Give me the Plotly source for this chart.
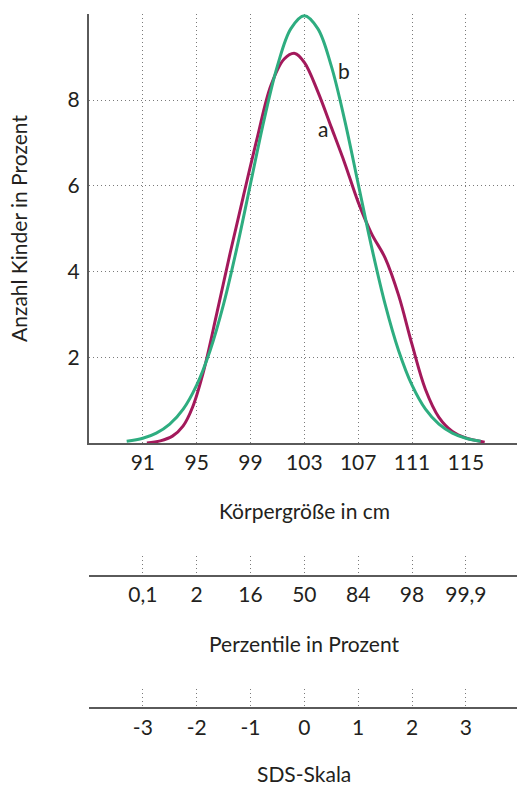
import plotly.graph_objects as go

# ---- data ----
height_ticks = [91, 95, 99, 103, 107, 111, 115]
height_labels = ["91", "95", "99", "103", "107", "111", "115"]
percentile_labels = ["0,1", "2", "16", "50", "84", "98", "99,9"]
sds_labels = ["-3", "-2", "-1", "0", "1", "2", "3"]
y_ticks = [2, 4, 6, 8, 10]
y_tick_labels = ["2", "4", "6", "8", ""]

# curve a (crimson)
a_x = [91.3, 92.3, 93.2, 94.0, 94.7, 95.5, 96.5, 97.5, 98.5, 99.5, 100.5, 101.5,
       102.3, 103.0, 104.0, 105.0, 106.0, 107.0, 108.0, 109.0, 110.0, 111.0,
       112.0, 113.0, 114.0, 115.0, 116.4]
a_y = [0.0, 0.05, 0.16, 0.4, 0.84, 1.66, 3.03, 4.45, 5.8, 7.12, 8.33, 8.96,
       9.09, 8.88, 8.2, 7.37, 6.53, 5.62, 4.88, 4.32, 3.45, 2.3,
       1.25, 0.6, 0.27, 0.12, 0.02]

# curve b (green)
b_x = [89.8, 91, 92, 93, 94, 95, 96, 97, 98, 99, 100, 101, 102, 103, 104, 105,
       106, 107, 108, 109, 110, 111, 112, 113, 114, 115, 116.1]
b_y = [0.04, 0.11, 0.23, 0.44, 0.79, 1.35, 2.16, 3.24, 4.57, 6.05, 7.53, 8.80,
       9.67, 9.97, 9.67, 8.80, 7.53, 6.05, 4.57, 3.24, 2.16, 1.35, 0.79, 0.44,
       0.23, 0.11, 0.04]

label_a = ("a", 104.37, 7.35)
label_b = ("b", 105.96, 8.70)

# ---- style ----
FONT = "Lato"
FS = 21
TXT = "#231F20"
CRIMSON = "#A3195B"
GREEN = "#2EAD80"
GRID = "#7a7a7a"
AXLINE = "#5a5a5a"
W, H = 517, 787
L, T = 89, 14
XR = [87.0, 118.8]

def py(pix):
    return (H - pix) / (H - T)

fig = go.Figure()
fig.add_trace(go.Scatter(x=a_x, y=a_y, mode="lines",
                         line=dict(color=CRIMSON, width=3, shape="spline", smoothing=1.0),
                         hoverinfo="skip", showlegend=False))
fig.add_trace(go.Scatter(x=b_x, y=b_y, mode="lines",
                         line=dict(color=GREEN, width=3, shape="spline", smoothing=1.0),
                         hoverinfo="skip", showlegend=False))
# empty traces so the secondary scale axes are drawn
for ax in ("2", "3"):
    fig.add_trace(go.Scatter(x=[None], y=[None], xaxis="x" + ax, yaxis="y" + ax,
                             mode="lines", hoverinfo="skip", showlegend=False))

common_x = dict(range=XR, showgrid=True, gridcolor=GRID, gridwidth=1,
                griddash="1px,3px", zeroline=False, showline=True,
                linecolor=AXLINE, linewidth=2, ticks="",
                tickfont=dict(family=FONT, size=FS, color=TXT),
                tickvals=height_ticks, ticklabelstandoff=0, fixedrange=True)

fig.update_layout(
    width=W, height=H,
    margin=dict(l=L, r=0, t=T, b=0, pad=0),
    paper_bgcolor="white", plot_bgcolor="white",
    showlegend=False,
    font=dict(family=FONT, size=FS, color=TXT),
    xaxis=dict(common_x, anchor="y", ticktext=height_labels),
    yaxis=dict(domain=[py(443), 1.0], range=[0, 10.01], tickvals=y_ticks,
               ticktext=y_tick_labels, showgrid=True, gridcolor=GRID,
               gridwidth=1, griddash="1px,3px", zeroline=False, showline=True,
               linecolor=AXLINE, linewidth=2, ticks="", ticklabelstandoff=3,
               tickfont=dict(family=FONT, size=FS, color=TXT), fixedrange=True),
    xaxis2=dict(common_x, anchor="y2", ticktext=percentile_labels),
    yaxis2=dict(domain=[py(575), py(556)], range=[0, 1], visible=False,
                anchor="x2", fixedrange=True),
    xaxis3=dict(common_x, anchor="y3", ticktext=sds_labels),
    yaxis3=dict(domain=[py(707.3), py(689)], range=[0, 1], visible=False,
                anchor="x3", fixedrange=True),
)

annots = [
    dict(text="Körpergröße in cm", x=103, xref="x", y=py(510), yref="paper"),
    dict(text="Perzentile in Prozent", x=103, xref="x", y=py(643), yref="paper"),
    dict(text="SDS-Skala", x=103, xref="x", y=py(773), yref="paper"),
    dict(text="Anzahl Kinder in Prozent", x=(18 - L) / (W - L), xref="paper",
         y=py(229), yref="paper", textangle=-90),
    dict(text=label_a[0], x=label_a[1], y=label_a[2], xref="x", yref="y"),
    dict(text=label_b[0], x=label_b[1], y=label_b[2], xref="x", yref="y"),
]
for a in annots:
    a.update(showarrow=False, xanchor="center", yanchor="middle",
             font=dict(family=FONT, size=FS, color=TXT))
    fig.add_annotation(**a)

fig.write_html("out.html")
